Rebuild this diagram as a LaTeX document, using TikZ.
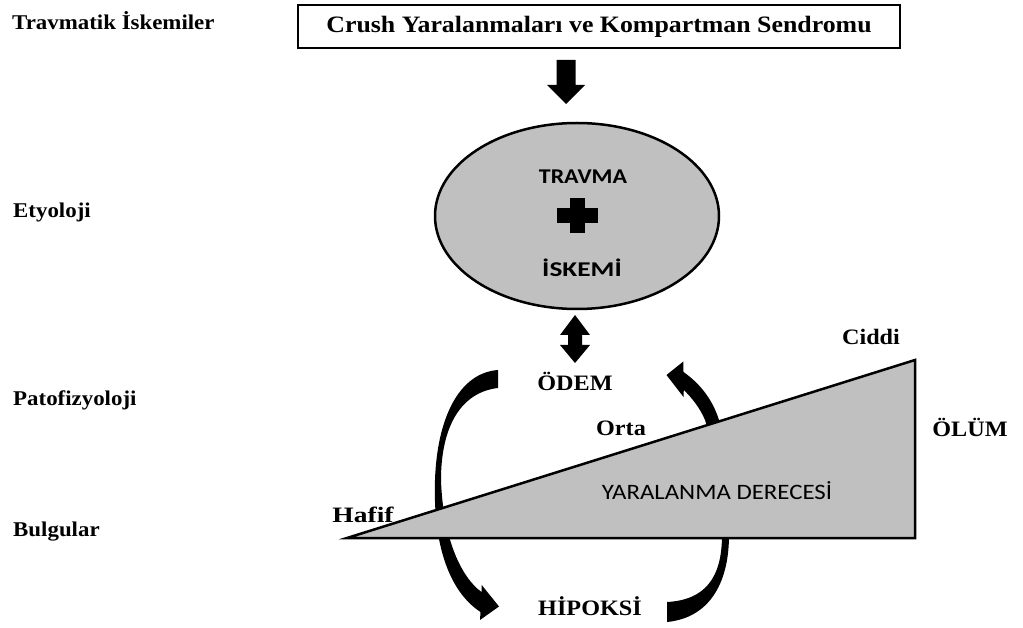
\documentclass[tikz,border=0pt]{standalone}
\usepackage{fontspec}
\setmainfont{Liberation Serif}
\newfontfamily\sansf{Carlito}
\usetikzlibrary{shapes.geometric}
\definecolor{fillgray}{HTML}{C0C0C0}
\newcommand\hs[1]{\scalebox{1.09}[1]{#1}}
\newcommand\hm[1]{\scalebox{1.1}[1]{#1}}
\begin{document}
\begin{tikzpicture}[x=1pt,y=-1pt,
  lab/.style={font=\fontsize{21}{24}\selectfont\bfseries, inner sep=0pt},
  mid/.style={font=\fontsize{22}{25}\selectfont\bfseries, inner sep=0pt},
  sanslab/.style={font=\sansf\fontsize{21}{25}\selectfont\bfseries, inner sep=0pt},
  sansreg/.style={font=\sansf\fontsize{22}{26}\selectfont, inner sep=0pt},
  blk/.style={fill=black, draw=none}]
\useasboundingbox (0,0) rectangle (1023,628);
\fill[white] (0,0) rectangle (1023,628);

% left column labels
\node[lab, anchor=west] (l1) at (12,21) {\hs{Travmatik İskemiler}};
\node[lab, anchor=west] (l2) at (13,212) {\hs{Etyoloji}};
\node[lab, anchor=west] (l3) at (13,400) {\hs{Patofizyoloji}};
\node[lab, anchor=west] (l4) at (13,532) {\hs{Bulgular}};

% top box
\node[draw, line width=1.2pt, minimum width=602pt, minimum height=43pt, inner sep=0pt,
      font=\fontsize{23.5}{26}\selectfont\bfseries] (box) at (599,26.5)
      {\scalebox{1.1}[1]{Crush Yaralanmaları ve Kompartman Sendromu}};

% down block arrow
\fill[blk] (556.5,60) -- (575.5,60) -- (575.5,85) -- (585,85) -- (566,104)
  -- (547,85) -- (556.5,85) -- cycle;

% ellipse
\node[draw, ellipse, fill=fillgray, line width=2.5pt, minimum width=284pt,
      minimum height=186pt, inner sep=0pt] (ell) at (577,216) {};
\node[sanslab] (trav) at (583,177) {\scalebox{1.14}[1]{TRAVMA}};
\node[sanslab] (isk) at (582,268) {\scalebox{1.3}[1]{İSKEMİ}};
\fill[blk] (557,208) rectangle (598,223);
\fill[blk] (570,198) rectangle (585,233);

% double block arrow
\fill[blk] (575,315) -- (590,335) -- (582,335) -- (582,345) -- (590,345) -- (575,363)
  -- (560,345) -- (568,345) -- (568,335) -- (560,335) -- cycle;

% curved arrows (behind triangle)
\fill[blk] (498,370) .. controls (458,373) and (437,420) .. (435,480)
  .. controls (433,540) and (447,590) .. (480.5,612)
  -- (480,620) -- (499,606.5) -- (481.7,585) -- (481.5,592)
  .. controls (462,578) and (443,540) .. (441,480)
  .. controls (441,425) and (462,392) .. (498,388) -- cycle;
\fill[blk] (667,622) .. controls (708,618) and (729,585) .. (729,535)
  .. controls (729,480) and (726,445) .. (719,420)
  .. controls (712,398) and (699,383) .. (683.5,372)
  -- (683.3,361.5) -- (666.5,375) -- (683.5,397) -- (683.8,390)
  .. controls (692,398) and (700,408) .. (705,420)
  .. controls (715,450) and (722,490) .. (722,535)
  .. controls (722,578) and (705,600) .. (667,602) -- cycle;

% triangle
\draw[fill=fillgray, line width=2.5pt, line join=miter] (347,538) -- (915,360) -- (915,538) -- cycle;

% labels
\node[mid] (odem) at (575,381) {\hm{ÖDEM}};
\node[mid] (hip) at (590,606) {\hm{HİPOKSİ}};
\node[mid] (orta) at (621,428) {\hm{Orta}};
\node[mid] (hafif) at (363,515) {\scalebox{1.25}[1]{Hafif}};
\node[mid] (ciddi) at (871,337) {\hm{Ciddi}};
\node[mid] (olum) at (970,427) {\hm{ÖLÜM}};
\node[sansreg] (yar) at (717,491) {\scalebox{1.13}[1]{YARALANMA DERECESİ}};
\end{tikzpicture}
\end{document}
